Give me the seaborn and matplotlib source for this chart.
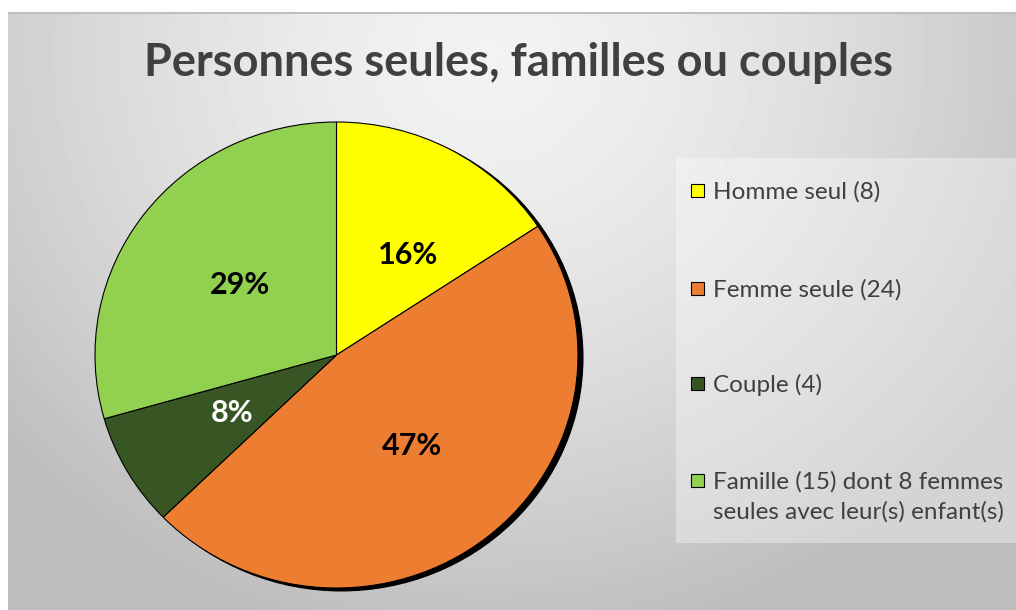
import numpy as np
import matplotlib
matplotlib.use('Agg')
import matplotlib.pyplot as plt
import seaborn as sns
from matplotlib.patches import Ellipse, Rectangle

# data
categories = ['Homme seul (8)', 'Femme seule (24)', 'Couple (4)',
              'Famille (15) dont 8 femmes\nseules avec leur(s) enfant(s)']
counts = [8, 24, 4, 15]
colors = ['#FFFF00', '#ED7D31', '#375623', '#92D050']
pct_colors = ['black', 'black', 'white', 'black']
title = 'Personnes seules, familles ou couples'

sns.set_theme(style='white')
plt.rcParams['font.family'] = ['Lato', 'DejaVu Sans']

W, H = 1016, 610
fig = plt.figure(figsize=(W / 100, H / 100), dpi=100, facecolor='white')

# grey radial background, like the office chart area
bg = fig.add_axes([8 / W, 0, (W - 8) / W, (H - 12) / H])
yy, xx = np.mgrid[0:598, 0:1008]
d = np.sqrt(((xx - 480) / 640) ** 2 + ((yy - 40) / 600) ** 2)
shade = 0.95 - 0.21 * np.clip(d, 0, 1) ** 1.5
bg.imshow(shade, cmap='gray', vmin=0, vmax=1, aspect='auto', interpolation='bilinear')
bg.axhline(0, color='#bfbfbf', lw=1.5)
bg.axis('off')

# pie axes (Excel stretches the pie a little horizontally)
cx, cy = 336.5, 355
rx, ry = 241.5, 233
m = 1.05
ax = fig.add_axes([(cx - m * rx) / W, (H - cy - m * ry) / H, 2 * m * rx / W, 2 * m * ry / H])
wedges, texts, autotexts = ax.pie(
    counts, colors=colors, startangle=90, counterclock=False,
    autopct=lambda p: f'{p:.0f}%', pctdistance=0.5,
    wedgeprops=dict(edgecolor='black', linewidth=0.8),
    textprops=dict(fontsize=22, fontweight='bold'),
)
for t, c in zip(autotexts, pct_colors):
    t.set_color(c)
# excel's "best fit" pushes the small yellow label a bit outward
x0, y0 = autotexts[0].get_position()
autotexts[0].set_position((x0 + 0.06, y0 - 0.01))
ax.set_aspect('auto')
ax.set_xlim(-m, m)
ax.set_ylim(-m, m)
# drop shadow
ax.add_patch(Ellipse((0.02, -0.012), 2, 2, color='black', zorder=0))

# legend panel
fig.patches.append(Rectangle((676 / W, (H - 543) / H), (W - 676) / W + 0.01, (543 - 158) / H,
                             transform=fig.transFigure, facecolor='white', alpha=0.35,
                             edgecolor='none', zorder=1))
# legend entries drawn by hand so the marker sits on the first text line
row_y = [190, 288, 383, 480]
for w, lab, ry_ in zip(wedges, categories, row_y):
    fig.patches.append(Rectangle((691 / W, (H - ry_ - 6.5) / H), 13 / W, 13 / H,
                                 transform=fig.transFigure, facecolor=w.get_facecolor(),
                                 edgecolor='black', lw=0.8, zorder=2))
    for k, line in enumerate(lab.split('\n')):
        fig.text(713 / W, (H - ry_ - 9 - 30 * k) / H, line, ha='left', va='baseline',
                 fontsize=17.5, color='#404040', zorder=3)

fig.text(518 / W, (H - 63) / H, title, ha='center', va='center', fontsize=32.5,
         fontweight='bold', color='#404040')

fig.savefig('out.png', dpi=100)
